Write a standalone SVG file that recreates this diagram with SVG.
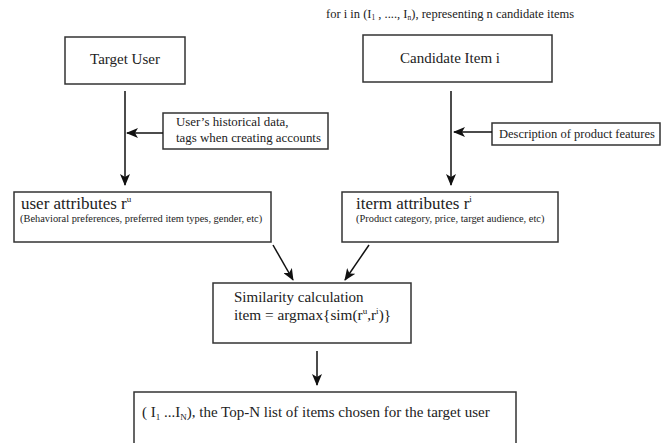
<svg xmlns="http://www.w3.org/2000/svg" width="661" height="443" viewBox="0 0 661 443">
  <style>
    text { font-family: "Liberation Serif", "DejaVu Serif", serif; fill: #222; }
    .box { fill: #fff; stroke: #333; stroke-width: 1.5; }
    .main { font-size: 15px; }
    .title { font-size: 17px; }
    .small { font-size: 10.4px; }
    .note { font-size: 12.9px; }
    .top { font-size: 12.5px; }
    .edge { stroke: #111; stroke-width: 1.5; fill: none; marker-end: url(#arrow); }
  </style>
  <defs>
    <marker id="arrow" markerUnits="userSpaceOnUse" markerWidth="12" markerHeight="10" refX="11" refY="5" orient="auto">
      <path d="M0,0 L12,5 L0,10 L3,5 Z" fill="#111"/>
    </marker>
  </defs>
  <rect width="661" height="443" fill="#fff"/>

  <!-- loop note above the candidate branch -->
  <text class="top" x="326" y="18">for i in (I<tspan style="font-size:7.5px" dy="2">1</tspan><tspan dy="-2"> , ...., I</tspan><tspan style="font-size:7.5px" dy="2">n</tspan><tspan dy="-2">), representing n candidate items</tspan></text>

  <g id="target-user">
    <rect class="box" x="65" y="37" width="120" height="47"/>
    <text class="main" x="125" y="64" text-anchor="middle">Target User</text>
  </g>

  <g id="candidate-item">
    <rect class="box" x="363" y="35" width="189" height="47"/>
    <text class="main" x="450" y="63" text-anchor="middle">Candidate Item i</text>
  </g>

  <g id="user-data">
    <rect class="box" x="163" y="113" width="165" height="36"/>
    <text class="note" x="176" y="126">User’s historical data,</text>
    <text class="note" x="176" y="142">tags when creating accounts</text>
  </g>

  <g id="product-features">
    <rect class="box" x="492" y="123" width="168" height="22"/>
    <text class="note" x="499" y="138" style="font-size:12.5px">Description of product features</text>
  </g>

  <g id="user-attributes">
    <rect class="box" x="14" y="192" width="257" height="50"/>
    <text class="title" x="21" y="209">user attributes r<tspan style="font-size:9px" dy="-7">u</tspan></text>
    <text class="small" x="20" y="222">(Behavioral preferences, preferred item types, gender, etc)</text>
  </g>

  <g id="item-attributes">
    <rect class="box" x="342" y="192" width="216" height="50"/>
    <text class="title" x="356" y="209">iterm attributes r<tspan style="font-size:9px" dy="-7">i</tspan></text>
    <text class="small" x="356" y="222">(Product category, price, target audience, etc)</text>
  </g>

  <g id="similarity">
    <rect class="box" x="213" y="283" width="198" height="60"/>
    <text class="main" x="234" y="302">Similarity calculation</text>
    <text class="main" x="234" y="320" style="font-size:15.3px">item = argmax{sim(r<tspan style="font-size:9px" dy="-6">u</tspan><tspan dy="6">,r</tspan><tspan style="font-size:9px" dy="-6">i</tspan><tspan dy="6">)}</tspan></text>
  </g>

  <g id="top-n">
    <rect class="box" x="134" y="392" width="382" height="60"/>
    <text class="main" x="142" y="417">( I<tspan style="font-size:9px" dy="3">1</tspan><tspan dy="-3"> ...I</tspan><tspan style="font-size:9px" dy="3">N</tspan><tspan dy="-3">), the Top-N list of items chosen for the target user</tspan></text>
  </g>

  <g id="connectors">
    <line class="edge" x1="125" y1="91" x2="125" y2="185"/>
    <line class="edge" x1="451" y1="91" x2="451" y2="185"/>
    <line class="edge" x1="163" y1="133" x2="127" y2="133"/>
    <line class="edge" x1="492" y1="132" x2="454" y2="132"/>
    <line class="edge" x1="273" y1="245" x2="293" y2="280"/>
    <line class="edge" x1="369" y1="245" x2="345" y2="280"/>
    <line class="edge" x1="317" y1="351" x2="317" y2="385"/>
  </g>
</svg>
